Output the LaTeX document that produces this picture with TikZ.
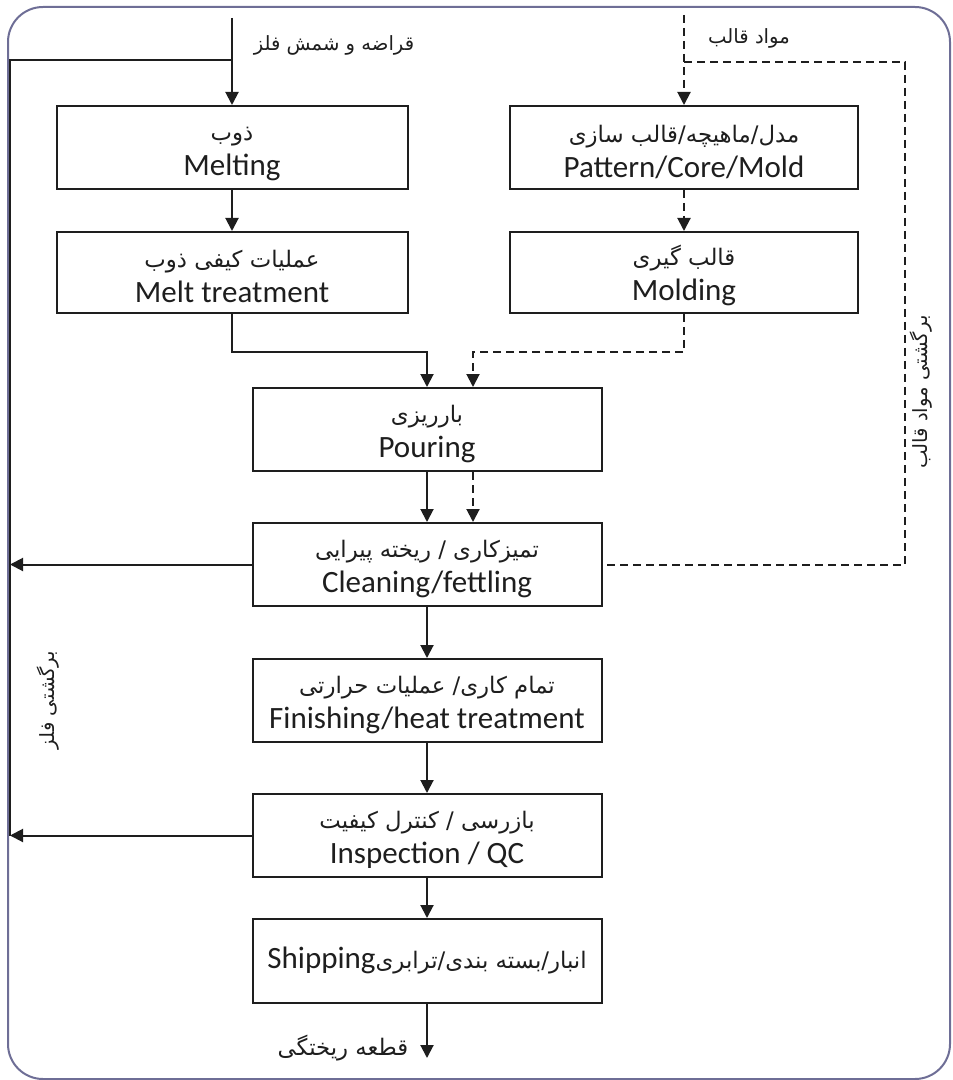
\documentclass[tikz,border=0pt]{standalone}
\usepackage{fontspec}
\setmainfont{Carlito}
\newfontfamily\fa[Script=Arabic]{DejaVu Sans}
\TeXXeTstate=1
\usetikzlibrary{arrows.meta,calc}
\definecolor{bordercol}{HTML}{6E6E96}
\definecolor{ink}{HTML}{1E1E1E}
\newcommand\FA[1]{{\fa\fontsize{9.8}{11}\selectfont\beginR #1\endR}}
\newcommand\FB[1]{{\fa\fontsize{11.4}{13}\selectfont\beginR #1\endR}}
\newcommand\EN[1]{{\fontsize{15.5}{18}\selectfont #1}}
\newcommand\TWO[2]{\rule{0pt}{13pt}\FB{#1}\\[3pt]\EN{#2}}
\begin{document}
\begin{tikzpicture}[x=0.5pt,y=-0.5pt,
  stagebox/.style={draw=ink, line width=1pt, minimum width=174.5pt, minimum height=41.5pt, align=center, inner sep=0pt, text=ink},
  flow/.style={draw=ink, line width=1pt, -{Triangle[length=6.5pt,width=6.5pt]}},
  plain/.style={draw=ink, line width=1pt},
  dsh/.style={dash pattern=on 4pt off 2.5pt},
  lbl/.style={text=ink, inner sep=0pt}]
\useasboundingbox (0,0) rectangle (952,1080);
\draw[bordercol, line width=1pt, rounded corners=17.5pt] (8,7) rectangle (950,1079);

\node[stagebox, minimum width=175.5pt, minimum height=41.5pt] (melt) at (232,147.5) {\TWO{ذوب}{Melting}};
\node[stagebox, minimum width=175.5pt, minimum height=40.5pt] (treat) at (232,272.5) {\TWO{عملیات کیفی ذوب}{Melt treatment}};
\node[stagebox, minimum width=174pt, minimum height=41.5pt] (pat) at (684,147.5) {\TWO{مدل/ماهیچه/قالب سازی}{Pattern/Core/Mold}};
\node[stagebox, minimum width=174pt, minimum height=40.5pt] (mold) at (684,272.5) {\TWO{قالب گیری}{Molding}};
\node[stagebox] (pour) at (427,429.5) {\TWO{بارریزی}{Pouring}};
\node[stagebox] (clean) at (427,564.5) {\TWO{تمیزکاری / ریخته پیرایی}{Cleaning/fettling}};
\node[stagebox] (finish) at (427,700.5) {\TWO{تمام کاری/ عملیات حرارتی}{Finishing/heat treatment}};
\node[stagebox] (insp) at (427,835.5) {\TWO{بازرسی / کنترل کیفیت}{Inspection / QC}};
\node[stagebox, minimum height=42pt] (ship) at (427,961) {\EN{Shipping}\FB{انبار/بسته بندی/ترابری}};

\coordinate (metalin) at (232,18);
\coordinate (mj) at (232,60);
\coordinate (lt) at (10,60);
\coordinate (moldin) at (684,15);
\coordinate (dj) at (684,62);
\coordinate (dr) at (905,62);
\coordinate (tj) at (232,352);
\coordinate (mj2) at (684,352);
\coordinate (out) at (427,1058);

\draw[flow] (metalin) -- (melt.north);
\draw[plain] (mj) -- (lt) -- (lt |- insp.west);
\draw[flow] (melt) -- (treat);
\draw[flow] (treat.south) -- (tj) -| (pour.north);
\draw[flow,dsh] (moldin) -- (pat.north);
\draw[plain,dsh] (dj) -- (dr) |- (clean.east);
\draw[flow,dsh] (pat) -- (mold);
\draw[flow,dsh] (mold.south) -- (mj2) -| ([xshift=23pt]pour.north);
\draw[flow] (pour) -- (clean);
\draw[flow,dsh] ([xshift=23pt]pour.south) -- ([xshift=23pt]clean.north);
\draw[flow] (clean.west) -- (clean.west -| lt);
\draw[flow] (clean) -- (finish);
\draw[flow] (finish) -- (insp);
\draw[flow] (insp.west) -- (insp.west -| lt);
\draw[flow] (insp) -- (ship);
\draw[flow] (ship.south) -- (out);

\node[lbl] (lmetal) at (334,45) {\FA{قراضه و شمش فلز}};
\node[lbl] (lmold) at (749,38) {\FA{مواد قالب}};
\node[lbl] (lout) at (343,1048) {\FB{قطعه ریختگی}};
\node[lbl, rotate=90] (lret1) at (48,700) {\FA{برگشتی فلز}};
\node[lbl, rotate=90] (lret2) at (921,392) {\FA{برگشتی مواد قالب}};
\end{tikzpicture}
\end{document}
